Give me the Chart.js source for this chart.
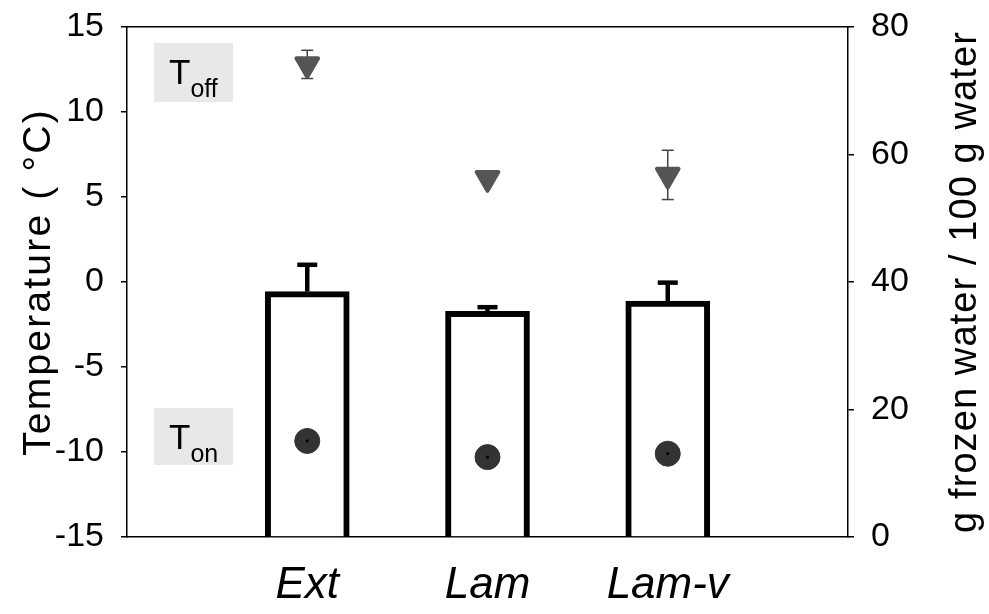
<!DOCTYPE html>
<html lang="en">
<head>
<meta charset="UTF-8">
<title>Freezing / melting temperatures</title>
<script src="https://cdn.jsdelivr.net/npm/chart.js"></script>
<style>
  html, body { margin: 0; padding: 0; background: #fff; }
  #wrap { width: 989px; height: 614px; }
</style>
</head>
<body>
<div id="wrap"><canvas id="chart"></canvas></div>
<script>
// category slots: empty slots at both ends give the wide margins
const categories = ['', 'Ext', 'Lam', 'Lam-v', ''];
const frozenWater = [38.5, 35.4, 37.0];      // g frozen water / 100 g water (right axis)
const frozenWaterErr = [4.2, 0.65, 2.9];
const tOff = [12.8, 6.1, 6.3];               // deg C
const tOffErr = [0.83, 0.2, 1.45];
const tOn = [-9.35, -10.3, -10.1];
const tOnErr = [0.3, 0.15, 0.75];
const tempTicks = [-15, -10, -5, 0, 5, 10, 15];
const waterTicks = [0, 20, 40, 60, 80];

const pad = arr => [null, ...arr, null];
const FONT = "'Liberation Sans', Arial, sans-serif";

function line(ctx, x1, y1, x2, y2) {
  ctx.beginPath(); ctx.moveTo(x1, y1); ctx.lineTo(x2, y2); ctx.stroke();
}

function vTitle(ctx, text, x, y, size, spacing) {
  ctx.save();
  ctx.translate(x, y);
  ctx.rotate(-Math.PI / 2);
  ctx.textAlign = 'center';
  ctx.textBaseline = 'middle';
  ctx.fillStyle = '#000';
  ctx.font = size + 'px ' + FONT;
  ctx.letterSpacing = spacing + 'px';
  ctx.fillText(text, 0, 0);
  ctx.restore();
}

const extras = {
  id: 'extras',
  beforeDatasetsDraw(chart) {
    const { ctx, chartArea, scales } = chart;
    const x = scales.x, yT = scales.y, yW = scales.y2;
    ctx.save();
    // T_off / T_on label boxes
    const boxes = [
      { sub: 'off', top: 43, h: 59 },
      { sub: 'on', top: 408, h: 57 }
    ];
    boxes.forEach(b => {
      const left = chartArea.left + 27;
      ctx.fillStyle = '#e8e8e8';
      ctx.fillRect(left, b.top, 79, b.h);
      ctx.fillStyle = '#000';
      ctx.textBaseline = 'alphabetic';
      ctx.textAlign = 'left';
      ctx.font = '35px ' + FONT;
      ctx.fillText('T', left + 15, b.top + 41);
      const w = ctx.measureText('T').width;
      ctx.font = '25px ' + FONT;
      ctx.fillText(b.sub, left + 15 + w, b.top + 54);
    });
    // bar error bars (upper only)
    ctx.strokeStyle = '#000';
    ctx.lineWidth = 4.5;
    frozenWater.forEach((v, i) => {
      const px = x.getPixelForValue(i + 1);
      const base = yW.getPixelForValue(v);
      const top = yW.getPixelForValue(v + frozenWaterErr[i]);
      line(ctx, px, base, px, top);
      line(ctx, px - 10, top, px + 10, top);
    });
    // marker error bars
    ctx.strokeStyle = '#444';
    ctx.lineWidth = 1.5;
    [[tOff, tOffErr], [tOn, tOnErr]].forEach(([vals, errs]) => {
      vals.forEach((v, i) => {
        const px = x.getPixelForValue(i + 1);
        const hi = yT.getPixelForValue(v + errs[i]);
        const lo = yT.getPixelForValue(v - errs[i]);
        line(ctx, px, hi, px, lo);
        line(ctx, px - 6, hi, px + 6, hi);
        line(ctx, px - 6, lo, px + 6, lo);
      });
    });
    ctx.restore();
    // rounded corners for the triangle markers
    ctx.lineJoin = 'round';
  },
  afterDatasetsDraw(chart) {
    const { ctx, scales } = chart;
    ctx.lineJoin = 'miter';
    ctx.save();
    ctx.fillStyle = '#000';
    tOn.forEach((v, i) => {
      ctx.beginPath();
      ctx.arc(scales.x.getPixelForValue(i + 1), scales.y.getPixelForValue(v), 1.6, 0, Math.PI * 2);
      ctx.fill();
    });
    ctx.restore();
  },
  afterDraw(chart) {
    const { ctx, chartArea } = chart;
    const midY = (chartArea.top + chartArea.bottom) / 2;
    vTitle(ctx, 'Temperature ( °C)', 39, midY, 39, 2.2);
    vTitle(ctx, 'g frozen water / 100 g water', 966, midY, 38, 1.1);
  }
};

// fixed axis sizes; drop the label overhang padding so the plot box fills its slot
const fixedSize = (w, h) => scale => {
  if (w !== null) scale.width = w;
  if (h !== null) scale.height = h;
  scale.paddingTop = 0;
  scale.paddingBottom = 0;
  scale.paddingLeft = 0;
  scale.paddingRight = 0;
};

new Chart(document.getElementById('chart'), {
  data: {
    labels: categories,
    datasets: [
      {
        type: 'line',
        label: 'T off',
        data: pad(tOff),
        yAxisID: 'y',
        showLine: false,
        pointStyle: 'triangle',
        rotation: 180,
        pointRadius: 12.5,
        backgroundColor: '#555',
        borderColor: '#555',
        borderWidth: 4,
        order: 1
      },
      {
        type: 'line',
        label: 'T on',
        data: pad(tOn),
        yAxisID: 'y',
        showLine: false,
        pointStyle: 'circle',
        pointRadius: 12.5,
        backgroundColor: '#333',
        borderColor: '#333',
        borderWidth: 1,
        order: 1
      },
      {
        type: 'bar',
        label: 'Frozen water',
        data: pad(frozenWater),
        yAxisID: 'y2',
        backgroundColor: '#fff',
        borderColor: '#000',
        borderWidth: 6,
        borderSkipped: 'bottom',
        barThickness: 84,
        order: 2
      }
    ]
  },
  options: {
    responsive: true,
    maintainAspectRatio: false,
    animation: false,
    layout: { padding: 0 },
    plugins: {
      legend: { display: false },
      tooltip: { enabled: false }
    },
    scales: {
      x: {
        type: 'category',
        offset: false,
        grid: { display: false, drawTicks: false },
        border: { display: true, color: '#000', width: 1.5 },
        ticks: {
          autoSkip: false,
          maxRotation: 0,
          padding: 22,
          color: '#000',
          font: { family: FONT, size: 44, style: 'italic' }
        },
        afterFit: fixedSize(null, 77)
      },
      xTop: {
        type: 'linear',
        position: 'top',
        min: 0, max: 1,
        grid: { display: false, drawTicks: false },
        border: { display: true, color: '#000', width: 1.5 },
        ticks: { display: false },
        afterFit: fixedSize(null, 27)
      },
      y: {
        position: 'left',
        min: -15, max: 15,
        afterBuildTicks: s => { s.ticks = tempTicks.map(v => ({ value: v })); },
        grid: { display: true, drawOnChartArea: false, tickLength: 6, color: '#000', lineWidth: 1.5 },
        border: { display: true, color: '#000', width: 1.5 },
        ticks: { padding: 17, color: '#000', font: { family: FONT, size: 34 } },
        afterFit: fixedSize(127, null)
      },
      y2: {
        position: 'right',
        min: 0, max: 80,
        afterBuildTicks: s => { s.ticks = waterTicks.map(v => ({ value: v })); },
        grid: { display: true, drawOnChartArea: false, tickLength: 6, color: '#000', lineWidth: 1.5 },
        border: { display: true, color: '#000', width: 1.5 },
        ticks: { padding: 17, color: '#000', font: { family: FONT, size: 34 } },
        afterFit: fixedSize(141, null)
      }
    }
  },
  plugins: [extras]
});
</script>
</body>
</html>
